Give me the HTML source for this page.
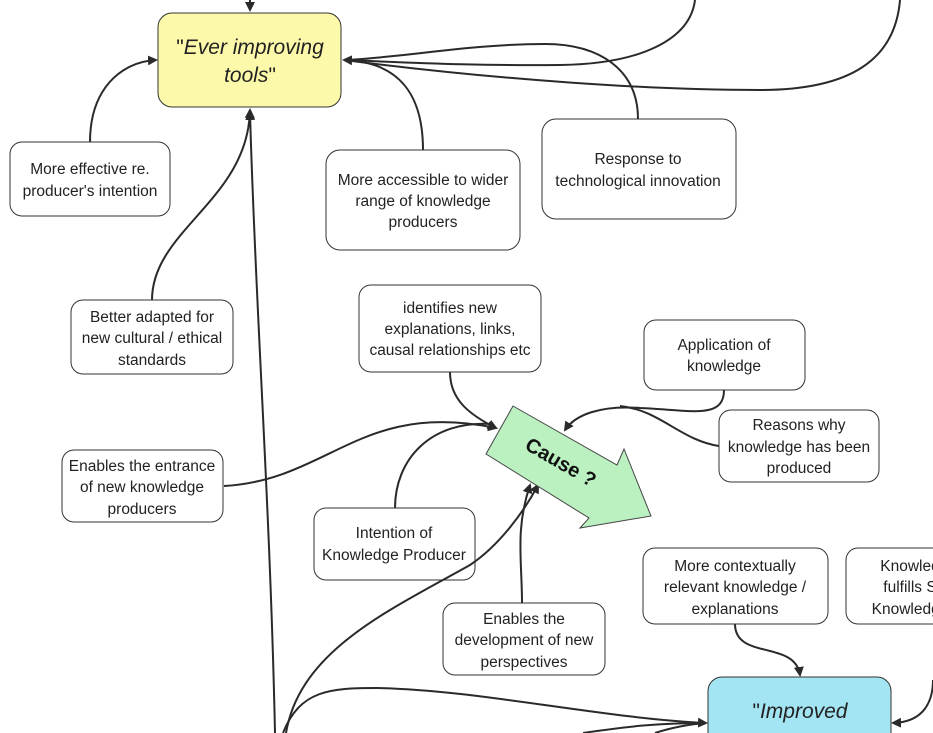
<!DOCTYPE html>
<html><head><meta charset="utf-8"><style>
html,body{margin:0;padding:0;background:#fff;width:933px;height:733px;overflow:hidden}
svg{display:block}
text{font-family:"Liberation Sans",sans-serif;font-size:15.5px;fill:#222;text-anchor:middle}
.b{fill:#fff;stroke:#333;stroke-width:1}
.c{fill:none;stroke:#2a2a2a;stroke-width:2}
</style></head><body>
<svg width="933" height="733" viewBox="0 0 933 733" xmlns="http://www.w3.org/2000/svg">
<defs><marker id="a" markerWidth="10" markerHeight="10" refX="8" refY="5" orient="auto" markerUnits="userSpaceOnUse"><path d="M0,0 L10,5 L0,10 z" fill="#2a2a2a"/></marker></defs>

<!-- connectors -->
<path class="c" d="M250,0 L250,10" marker-end="url(#a)"/>
<path class="c" d="M90,142 C90,90 120,62 156,60" marker-end="url(#a)"/>
<path class="c" d="M152,300 C152,230 248,200 250,110" marker-end="url(#a)"/>
<path class="c" d="M275,733 C270,500 255,300 250,112" marker-end="url(#a)"/>
<path class="c" d="M423,150 C423,95 400,62 344,60" marker-end="url(#a)"/>
<path class="c" d="M638,119 C638,70 600,44 545,44 C470,44 400,58 344,60"/>
<path class="c" d="M695,0 C690,40 640,64 560,65 C470,66 400,62 344,60"/>
<path class="c" d="M900,0 C895,60 850,90 760,90 C650,90 500,80 344,60"/>
<path class="c" d="M450,372 C450,400 470,415 496,428" marker-end="url(#a)"/>
<path class="c" d="M224,486 C330,480 360,400 496,428" marker-end="url(#a)"/>
<path class="c" d="M395,508 C395,460 430,420 492,424"/>
<path class="c" d="M724,390 C724,420 690,410 640,408 C600,405 575,415 565,430" marker-end="url(#a)"/>
<path class="c" d="M719,446 C680,440 660,410 620,406"/>
<path class="c" d="M522,603 C522,560 515,530 530,485" marker-end="url(#a)"/>
<path class="c" d="M283,733 C300,690 330,688 377,688 C480,690 600,718 706,723" marker-end="url(#a)"/>
<path class="c" d="M583,733 C630,726 660,723 706,723"/>
<path class="c" d="M655,733 C670,728 690,724 706,723"/>
<path class="c" d="M735,624 C735,660 795,640 800,675" marker-end="url(#a)"/>
<path class="c" d="M933,680 C933,700 925,722 893,723" marker-end="url(#a)"/>

<!-- boxes -->
<rect x="158" y="13" width="183" height="94" rx="14" fill="#fdf9aa" stroke="#333"/>
<text x="250" y="54" style="font-size:21px"><tspan>"</tspan><tspan font-style="italic">Ever improving</tspan></text>
<text x="250" y="82" style="font-size:21px"><tspan font-style="italic">tools</tspan>"</text>

<rect class="b" x="10" y="142" width="160" height="74" rx="12"/>
<text x="90" y="174">More effective re.</text><text x="90" y="196">producer's intention</text>

<rect class="b" x="326" y="150" width="194" height="100" rx="14"/>
<text x="423" y="185">More accessible to wider</text><text x="423" y="206">range of knowledge</text><text x="423" y="227">producers</text>

<rect class="b" x="542" y="119" width="194" height="100" rx="14"/>
<text x="638" y="164">Response to</text><text x="638" y="186">technological innovation</text>

<rect class="b" x="71" y="300" width="162" height="74" rx="12"/>
<text x="152" y="322">Better adapted for</text><text x="152" y="343">new cultural / ethical</text><text x="152" y="365">standards</text>

<rect class="b" x="359" y="285" width="182" height="87" rx="12"/>
<text x="450" y="313">identifies new</text><text x="450" y="334">explanations, links,</text><text x="450" y="355">causal relationships etc</text>

<rect class="b" x="644" y="320" width="161" height="70" rx="12"/>
<text x="724" y="350">Application of</text><text x="724" y="371">knowledge</text>

<rect class="b" x="719" y="410" width="160" height="72" rx="12"/>
<text x="799" y="430">Reasons why</text><text x="799" y="452">knowledge has been</text><text x="799" y="473">produced</text>

<rect class="b" x="62" y="450" width="161" height="72" rx="12"/>
<text x="142" y="471">Enables the entrance</text><text x="142" y="492">of new knowledge</text><text x="142" y="514">producers</text>

<rect class="b" x="314" y="508" width="161" height="72" rx="12"/>
<text x="394" y="538">Intention of</text><text x="394" y="560">Knowledge Producer</text>

<rect class="b" x="443" y="603" width="162" height="72" rx="12"/>
<text x="524" y="624">Enables the</text><text x="524" y="645">development of new</text><text x="524" y="667">perspectives</text>

<rect class="b" x="643" y="548" width="185" height="76" rx="12"/>
<text x="735" y="571">More contextually</text><text x="735" y="592">relevant knowledge /</text><text x="735" y="614">explanations</text>

<rect class="b" x="846" y="548" width="120" height="76" rx="12"/>
<text x="910" y="571">Knowled</text><text x="910" y="592">fulfills S</text><text x="910" y="614">Knowledge</text>

<rect x="708" y="677" width="183" height="80" rx="14" fill="#a4e5f3" stroke="#333"/>
<text x="800" y="718" style="font-size:21px">"<tspan font-style="italic">Improved</tspan></text>

<!-- line crossing intention box -->
<path class="c" d="M286,733 C300,650 390,610 470,565 C500,545 525,510 538,485" marker-end="url(#a)"/>

<!-- cause arrow -->
<polygon points="513,406 617,465 624,449 651,516 580,528 589,518 486,454" fill="#bbf0c1" stroke="#444" stroke-width="1"/>
<text x="561" y="469" transform="rotate(30 561 462)" style="font-size:20px;font-weight:bold;fill:#111">Cause ?</text>
</svg>
</body></html>
